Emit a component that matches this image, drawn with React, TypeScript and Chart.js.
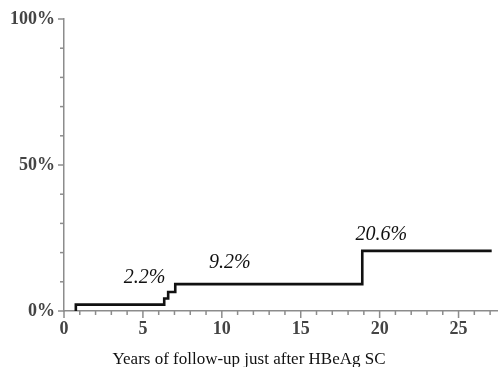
import React, { useEffect, useRef } from "react";
import { Chart, registerables } from "chart.js";

Chart.register(...registerables);

// Step curve: event times (years) and cumulative incidence (%)
const stepYears = [0.75, 0.75, 6.35, 6.6, 7.05, 18.9, 27.1];
const stepPercent = [0, 2.2, 4.3, 6.5, 9.2, 20.6, 20.6];

// Annotation labels and their anchor points (data units)
const noteTexts = ["2.2%", "9.2%", "20.6%"];
const noteYears = [5.1, 10.5, 20.1];
const notePercents = [11.3, 16.6, 26];

const xTickValues = [0, 5, 10, 15, 20, 25];
const yTickValues = [0, 50, 100];
const yTickLabels = ["0%", "50%", "100%"];
const xTitle = "Years of follow-up just after HBeAg SC";

const SERIF = "'Liberation Serif', 'Times New Roman', serif";
const AXIS_COLOR = "#8c8c8c";

const decorPlugin = {
  id: "decor",
  afterDraw(chart: any) {
    const ctx = chart.ctx;
    const x = chart.scales.x;
    const y = chart.scales.y;
    ctx.save();
    ctx.strokeStyle = AXIS_COLOR;
    ctx.lineWidth = 1.5;
    const yAxis = y.getPixelForValue(0);
    for (let v = 0; v <= 27; v += 1) {
      const px = x.getPixelForValue(v);
      const len = v % 5 === 0 ? 7 : 4;
      ctx.beginPath();
      ctx.moveTo(px, yAxis);
      ctx.lineTo(px, yAxis + len);
      ctx.stroke();
    }
    const xAxis = x.getPixelForValue(0);
    for (let v = 0; v <= 100; v += 10) {
      const py = y.getPixelForValue(v);
      const len = v % 50 === 0 ? 6 : 4;
      ctx.beginPath();
      ctx.moveTo(xAxis, py);
      ctx.lineTo(xAxis - len, py);
      ctx.stroke();
    }
    ctx.fillStyle = "#111";
    ctx.font = `italic 20px ${SERIF}`;
    ctx.textAlign = "center";
    ctx.textBaseline = "middle";
    noteTexts.forEach((t, i) => {
      ctx.fillText(t, x.getPixelForValue(noteYears[i]), y.getPixelForValue(notePercents[i]));
    });
    // axis title, centred on the figure
    ctx.font = `17px ${SERIF}`;
    ctx.textBaseline = "alphabetic";
    ctx.fillText(xTitle, chart.width / 2, chart.height - 3);
    ctx.restore();
  },
};

export default function App() {
  const canvasRef = useRef<HTMLCanvasElement | null>(null);

  useEffect(() => {
    const canvas = canvasRef.current;
    if (!canvas) return;
    const chart = new Chart(canvas, {
      type: "line",
      data: {
        datasets: [
          {
            data: stepYears.map((t, i) => ({ x: t, y: stepPercent[i] })),
            borderColor: "#111",
            borderWidth: 2.6,
            stepped: "before",
            pointRadius: 0,
            fill: false,
            borderCapStyle: "butt",
            borderJoinStyle: "miter",
          },
        ],
      },
      options: {
        responsive: false,
        animation: false,
        layout: { padding: { top: 19, left: 0, right: 0, bottom: 0 } },
        plugins: { legend: { display: false }, tooltip: { enabled: false } },
        scales: {
          x: {
            type: "linear",
            min: 0,
            max: 27.5,
            grid: { display: false, drawTicks: false },
            border: { display: true, color: AXIS_COLOR, width: 1.5 },
            afterBuildTicks: (s: any) => {
              s.ticks = xTickValues.map((v) => ({ value: v }));
            },
            ticks: {
              autoSkip: false,
              maxRotation: 0,
              padding: 8,
              color: "#444",
              font: { family: SERIF, size: 18, weight: "bold" },
              callback: (v: any) => String(v),
            },
            title: { display: false },
            afterFit: (s: any) => {
              s.height = 56;
              s.paddingRight = 0;
              s.paddingLeft = 0;
            },
          },
          y: {
            type: "linear",
            min: 0,
            max: 100,
            grid: { display: false, drawTicks: false },
            border: { display: true, color: AXIS_COLOR, width: 1.5 },
            afterBuildTicks: (s: any) => {
              s.ticks = yTickValues.map((v) => ({ value: v }));
            },
            ticks: {
              autoSkip: false,
              padding: 9,
              color: "#444",
              font: { family: SERIF, size: 18, weight: "bold" },
              callback: (v: any) => yTickLabels[yTickValues.indexOf(Number(v))] ?? "",
            },
            afterFit: (s: any) => {
              s.width = 64;
              s.paddingTop = 0;
              s.paddingBottom = 0;
            },
          },
        },
      },
      plugins: [decorPlugin],
    });
    return () => chart.destroy();
  }, []);

  return (
    <div style={{ position: "fixed", left: 0, top: 0, width: 498, height: 367, background: "#fff" }}>
      <canvas ref={canvasRef} width={498} height={367} style={{ display: "block" }} />
    </div>
  );
}
